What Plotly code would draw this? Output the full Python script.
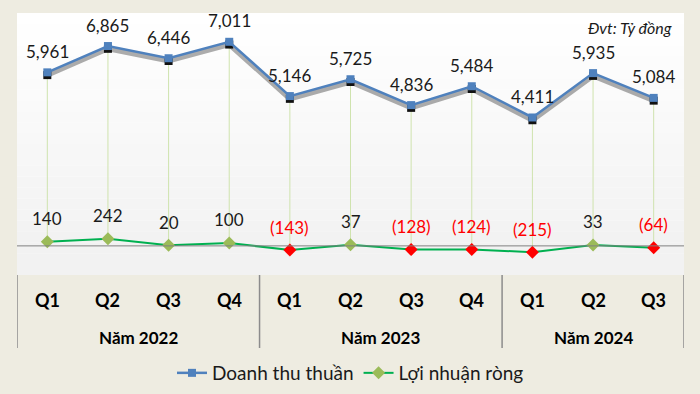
import plotly.graph_objects as go

quarters = ["Q1", "Q2", "Q3", "Q4", "Q1", "Q2", "Q3", "Q4", "Q1", "Q2", "Q3"]
years = ["Năm 2022", "Năm 2023", "Năm 2024"]
year_counts = [4, 4, 3]
revenue = [5961, 6865, 6446, 7011, 5146, 5725, 4836, 5484, 4411, 5935, 5084]
profit = [140, 242, 20, 100, -143, 37, -128, -124, -215, 33, -64]
unit_note = "Đvt: Tỷ đồng"
series_names = ["Doanh thu thuần", "Lợi nhuận ròng"]

BEIGE = "#EEECE1"
BLUE = "#4F81BD"
GREEN_LINE = "#00B050"
GREEN_MK = "#9BBB59"
RED = "#FF0000"
FONT = "Lato, Liberation Sans, sans-serif"

x = list(range(len(quarters)))
y_min, y_max = -1000, 8000
fig = go.Figure()

# gradient background bands
n_bands = 24
for k in range(n_bands):
    y0 = y_max - (y_max - y_min) * k / n_bands
    y1 = y_max - (y_max - y_min) * (k + 1) / n_bands
    t = min(1.0, k / (n_bands * 0.85))
    c = int(round(255 - (255 - 242) * t))
    fig.add_shape(type="rect", xref="paper", x0=0, x1=1, yref="y", y0=y1, y1=y0,
                  fillcolor=f"rgb({c},{c},{c})", line_width=0, layer="below")

# drop lines between series
dx, dy = [], []
for i in x:
    dx += [i, i, None]
    dy += [revenue[i], profit[i], None]
fig.add_trace(go.Scatter(x=dx, y=dy, mode="lines", line=dict(color="#CFE3AE", width=1),
                         showlegend=False, hoverinfo="skip"))

# zero line
fig.add_shape(type="line", xref="paper", x0=0, x1=1, yref="y", y0=0, y1=0,
              line=dict(color="#808080", width=1))

# revenue shadow
shadow = [v - 95 for v in revenue]
fig.add_trace(go.Scatter(x=x, y=shadow, mode="lines+markers",
                         line=dict(color="rgba(50,50,50,0.4)", width=5),
                         marker=dict(symbol="square", size=8, color="#111111"),
                         showlegend=False, hoverinfo="skip"))

fig.add_trace(go.Scatter(x=x, y=revenue, mode="lines+markers", name=series_names[0],
                         line=dict(color=BLUE, width=2.5),
                         marker=dict(symbol="square", size=8, color=BLUE)))

fig.add_trace(go.Scatter(x=x, y=profit, mode="lines+markers", name=series_names[1],
                         line=dict(color=GREEN_LINE, width=2),
                         marker=dict(symbol="diamond", size=10,
                                     color=[RED if v < 0 else GREEN_MK for v in profit])))

annotations = []
for i in x:
    annotations.append(dict(x=i, y=revenue[i], xref="x", yref="y", text=f"{revenue[i]:,}",
                            showarrow=False, yshift=21, yanchor="middle",
                            font=dict(family=FONT, size=17, color="#1a1a1a")))
    p = profit[i]
    annotations.append(dict(x=i, y=p, xref="x", yref="y",
                            text=f"({abs(p):,})" if p < 0 else f"{p:,}",
                            showarrow=False, yshift=23, yanchor="middle",
                            font=dict(family=FONT, size=17, color=RED if p < 0 else "#1a1a1a")))
    annotations.append(dict(x=i, y=0, xref="x", yref="paper", text=f"<b>{quarters[i]}</b>",
                            showarrow=False, yshift=-25, yanchor="middle",
                            font=dict(family=FONT, size=18, color="#000000")))

start = 0
bounds = [-0.5]
for yr, cnt in zip(years, year_counts):
    center = start + (cnt - 1) / 2
    annotations.append(dict(x=center, y=0, xref="x", yref="paper", text=f"<b>{yr}</b>",
                            showarrow=False, yshift=-62, yanchor="middle",
                            font=dict(family=FONT, size=17, color="#000000")))
    start += cnt
    bounds.append(start - 0.5)
for b in bounds:
    fig.add_shape(type="line", xref="x", x0=b, x1=b, yref="paper", y0=0, y1=-73 / 262,
                  line=dict(color="#8C8C8C", width=1.5))

annotations.append(dict(x=1, y=1, xref="paper", yref="paper", text=f"<i>{unit_note}</i>",
                        showarrow=False, xanchor="right", yanchor="top", xshift=-10, yshift=-3,
                        font=dict(family=FONT, size=16, color="#1a1a1a")))

fig.update_layout(
    width=700, height=394,
    margin=dict(l=17, r=16, t=13, b=119, autoexpand=False),
    paper_bgcolor=BEIGE, plot_bgcolor="white",
    xaxis=dict(range=[-0.5, len(quarters) - 0.5], showticklabels=False, showgrid=False,
               zeroline=False, fixedrange=True),
    yaxis=dict(range=[y_min, y_max], showticklabels=False, showgrid=False, zeroline=False),
    annotations=annotations,
    showlegend=True,
    legend=dict(orientation="h", x=0.5, xanchor="center", y=-98 / 262, yanchor="middle",
                font=dict(family=FONT, size=19, color="#1a1a1a"), bgcolor="rgba(0,0,0,0)",
                itemwidth=30),
)

fig.write_html("out.html", config={"displayModeBar": False},
               post_script="document.body.style.margin='0';document.body.style.overflow='hidden';")
